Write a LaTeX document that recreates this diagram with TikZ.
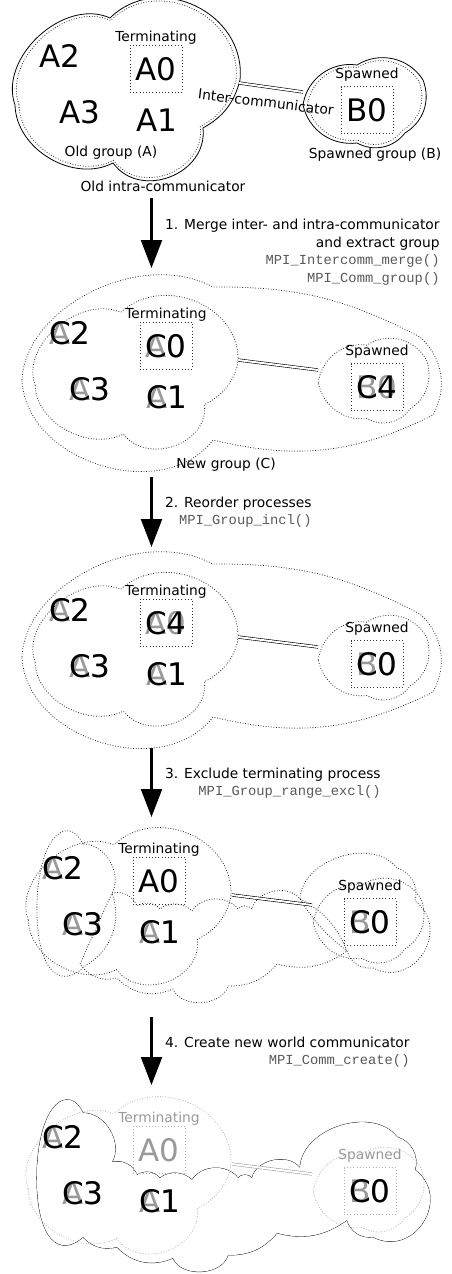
\documentclass[tikz,border=0pt]{standalone}
\usepackage{fontspec}
\setmainfont{DejaVu Sans}
\newfontfamily\codefont{Liberation Mono}
\usetikzlibrary{arrows.meta}

% cloud outlines, relative to their centre
\newcommand{\oldcloud}{(-112,-16) to[bend left=67] (-17,71) to[bend left=70,looseness=1.2] (113,9) to[bend left=23] (76,-39) to[bend left=75,looseness=1.23] (-14,-74) to[bend left=58] (-112,-16) -- cycle}
\newcommand{\spawncloud}{(-62,-4) to[bend left=45] (-8,36) to[bend left=45] (58,21) to[bend left=40] (40,-32) to[bend left=40] (-8,-42) to[bend left=42] (-62,-4) -- cycle}
\newcommand{\newcloud}{(-208,-12) .. controls (-205,60) and (-90,120) .. (-17,81) to[bend left=14] (190,31) to[bend left=38] (203,-47) to[bend left=20] (-17,-72) to[bend left=70,looseness=1.05] (-208,-12) -- cycle}
% pieces of the new world communicator (panel coordinates)
\newcommand{\leftcloud}{(80,-32) .. controls (67,-4) and (37,-19) .. (34,-89) .. controls (32,-159) and (57,-179) .. (82,-154) to[bend right=40] (109,-81) to[bend right=60] (80,-32) -- cycle}
\newcommand{\lowcloud}{(109,-81) to[bend left=40] (134,-94) to[bend left=40] (157,-97) to[bend left=40] (189,-99) to[bend left=55] (235,-97) to[bend left=50] (249,-97) to[bend left=65] (297,-87) to[bend left=20] (344,-139) to[bend left=25] (274,-152) to[bend left=25] (225,-174) to[bend left=70] (170,-177) to[bend left=35] (114,-166) to[bend left=35] (77,-152) -- (109,-81) -- cycle}
\newcommand{\spawnout}{(297,-87) to[bend left=70] (394,-56) to[bend left=45] (412,-89) to[bend left=85,looseness=1.5] (370,-156) to[bend left=40] (344,-139) to[bend left=10] (297,-87) -- cycle}
\newcommand{\code}[1]{{\codefont\color{black!65}#1}}
\newcommand{\relabel}[4]{\node[oldproc] (#1old) at (#2) {#3};\node[proc] (#1) at (#2) {#4};}

\tikzset{
  grp/.style={line width=0.8pt},
  dotline/.style={line width=0.8pt, dash pattern=on 0.8pt off 1.8pt, draw=black!85},
  faint/.style={line width=0.8pt, dash pattern=on 0.8pt off 1.8pt, draw=black!30},
  lbl/.style={font=\fontsize{13.8}{17}\selectfont, inner sep=0pt},
  proc/.style={font=\fontsize{31}{36}\selectfont, inner sep=0pt, text depth=0pt},
  oldproc/.style={proc, text=black!40},
  procbox/.style={draw=black!80, line width=0.8pt, dash pattern=on 0.8pt off 2.4pt, minimum width=52pt, minimum height=47pt, inner sep=0pt},
  comm/.style={double, double distance=2pt, line width=0.6pt},
  stepline/.style={line width=2.2pt, -{Triangle[length=28pt,width=21pt]}},
  steplbl/.style={font=\fontsize{13.8}{17.5}\selectfont, align=right, inner sep=0pt, anchor=west},
}

\begin{document}
\begin{tikzpicture}[x=1pt,y=1pt]
\useasboundingbox (0,0) rectangle (452,-1274);

% 1: old group and spawned group
\begin{scope}[shift={(127,-89)}]
\draw[grp] \oldcloud;
\draw[dotline, scale=0.965] \oldcloud;
\end{scope}
\begin{scope}[shift={(365,-101)}]
\draw[grp] \spawncloud;
\draw[dotline, scale=0.93] \spawncloud;
\end{scope}
\node[lbl] (term1) at (156,-38) {Terminating};
\node[procbox] (box1) at (156,-68.5) {};
\node[proc] (a0) at (box1) {A0};
\node[proc] (a2) at (60,-56) {A2};
\node[proc] (a3) at (80,-112) {A3};
\node[proc] (a1) at (157,-120) {A1};
\node[lbl] (oldA) at (111,-153) {Old group (A)};
\node[lbl] (intra) at (163,-186) {Old intra-communicator};
\node[lbl] (spw1) at (367,-75) {Spawned};
\node[procbox] (bbox1) at (367,-110) {};
\node[proc] (b0) at (bbox1) {B0};
\node[lbl] (spB) at (375,-155) {Spawned group (B)};
\node[lbl, rotate=-7] (inter) at (266,-102) {Inter-communicator};
\coordinate (o1) at (239,-83);
\coordinate (s1) at (303,-92);
\draw[comm] (o1) -- (s1);

\coordinate (t1) at (151.5,-198);
\coordinate (h1) at (151.5,-268);
\draw[stepline] (t1) -- (h1);
\node[steplbl] (st1) at (165,-252) {1. Merge inter- and intra-communicator\\and extract group\\\code{MPI\_Intercomm\_merge()}\\\code{MPI\_Comm\_group()}};

% 2: merged group
\begin{scope}[shift={(10,-277)}]
\begin{scope}[shift={(220,-91)}]
\draw[dotline] \newcloud;
\end{scope}
\begin{scope}[shift={(126,-95)}, xscale=0.9, yscale=0.84]
\draw[dotline] \oldcloud;
\end{scope}
\begin{scope}[shift={(364,-102)}, xscale=0.9, yscale=0.94]
\draw[dotline] \spawncloud;
\end{scope}
\node[lbl] (term2) at (156,-38) {Terminating};
\node[procbox] (box2) at (156,-68.5) {};
\relabel{c0b}{box2}{A0}{C0}
\relabel{c2b}{60,-56}{A2}{C2}
\relabel{c3b}{80,-112}{A3}{C3}
\relabel{c1b}{157,-120}{A1}{C1}
\node[lbl] (spw2) at (367,-75) {Spawned};
\node[procbox] (bbox2) at (367,-110) {};
\relabel{c4b}{bbox2}{B0}{C4}
\node[lbl] (newC) at (216,-188) {New group (C)};
\coordinate (o2) at (228,-83);
\coordinate (s2) at (308,-93);
\draw[comm] (o2) -- (s2);
\end{scope}

\coordinate (t2) at (151.5,-477);
\coordinate (h2) at (151.5,-547);
\draw[stepline] (t2) -- (h2);
\node[steplbl] (st2) at (165,-512) {2. Reorder processes\\\code{MPI\_Group\_incl()}};

% 3: reordered group
\begin{scope}[shift={(10,-554)}]
\begin{scope}[shift={(220,-91)}]
\draw[dotline] \newcloud;
\end{scope}
\begin{scope}[shift={(126,-95)}, xscale=0.9, yscale=0.84]
\draw[dotline] \oldcloud;
\end{scope}
\begin{scope}[shift={(364,-102)}, xscale=0.9, yscale=0.94]
\draw[dotline] \spawncloud;
\end{scope}
\node[lbl] (term3) at (156,-38) {Terminating};
\node[procbox] (box3) at (156,-68.5) {};
\relabel{c4c}{box3}{A0}{C4}
\relabel{c2c}{60,-56}{A2}{C2}
\relabel{c3c}{80,-112}{A3}{C3}
\relabel{c1c}{157,-120}{A1}{C1}
\node[lbl] (spw3) at (367,-75) {Spawned};
\node[procbox] (bbox3) at (367,-110) {};
\relabel{c0c}{bbox3}{B0}{C0}
\coordinate (o3) at (228,-83);
\coordinate (s3) at (308,-93);
\draw[comm] (o3) -- (s3);
\end{scope}

\coordinate (t3) at (151.5,-748);
\coordinate (h3) at (151.5,-817);
\draw[stepline] (t3) -- (h3);
\node[steplbl] (st3) at (165,-783) {3. Exclude terminating process\\\code{MPI\_Group\_range\_excl()}};

% 4: terminating process excluded
\begin{scope}[shift={(3,-812)}]
\draw[dotline] \leftcloud;
\draw[dotline] \lowcloud;
\draw[dotline] \spawnout;
\begin{scope}[shift={(126,-94)}, xscale=0.9, yscale=0.86]
\draw[dotline] \oldcloud;
\end{scope}
\begin{scope}[shift={(366,-107)}, xscale=0.9, yscale=0.94]
\draw[dotline] \spawncloud;
\end{scope}
\node[lbl] (term4) at (156,-38) {Terminating};
\node[procbox] (box4) at (156,-68.5) {};
\node[proc] (a0d) at (box4) {A0};
\relabel{c2d}{60,-56}{A2}{C2}
\relabel{c3d}{80,-112}{A3}{C3}
\relabel{c1d}{157,-120}{A1}{C1}
\node[lbl] (spw4) at (367,-75) {Spawned};
\node[procbox] (bbox4) at (367,-110) {};
\relabel{c0d}{bbox4}{B0}{C0}
\coordinate (o4) at (229,-83);
\coordinate (s4) at (309,-93);
\draw[comm] (o4) -- (s4);
\end{scope}

\coordinate (t4) at (151.5,-1017);
\coordinate (h4) at (151.5,-1085);
\draw[stepline] (t4) -- (h4);
\node[steplbl] (st4) at (165,-1052) {4. Create new world communicator\\\code{MPI\_Comm\_create()}};

% 5: new world communicator
\begin{scope}[shift={(3,-1081)}]
\draw[grp] \leftcloud;
\draw[grp] \lowcloud;
\draw[grp] \spawnout;
\fill[white] \leftcloud;
\fill[white] \lowcloud;
\fill[white] \spawnout;
\begin{scope}[shift={(126,-94)}, xscale=0.9, yscale=0.86]
\draw[faint] \oldcloud;
\end{scope}
\begin{scope}[shift={(366,-107)}, xscale=0.9, yscale=0.94]
\draw[faint] \spawncloud;
\end{scope}
\node[lbl, text=black!40] (term5) at (156,-38) {Terminating};
\node[procbox, draw=black!30] (box5) at (156,-68.5) {};
\node[oldproc] (a0e) at (box5) {A0};
\relabel{c2e}{60,-56}{A2}{C2}
\relabel{c3e}{80,-112}{A3}{C3}
\relabel{c1e}{157,-120}{A1}{C1}
\node[lbl, text=black!40] (spw5) at (367,-75) {Spawned};
\node[procbox, draw=black!30] (bbox5) at (367,-110) {};
\relabel{c0e}{bbox5}{B0}{C0}
\coordinate (o5) at (229,-83);
\coordinate (s5) at (309,-93);
\draw[comm, draw=black!35] (o5) -- (s5);
\end{scope}
\end{tikzpicture}
\end{document}
